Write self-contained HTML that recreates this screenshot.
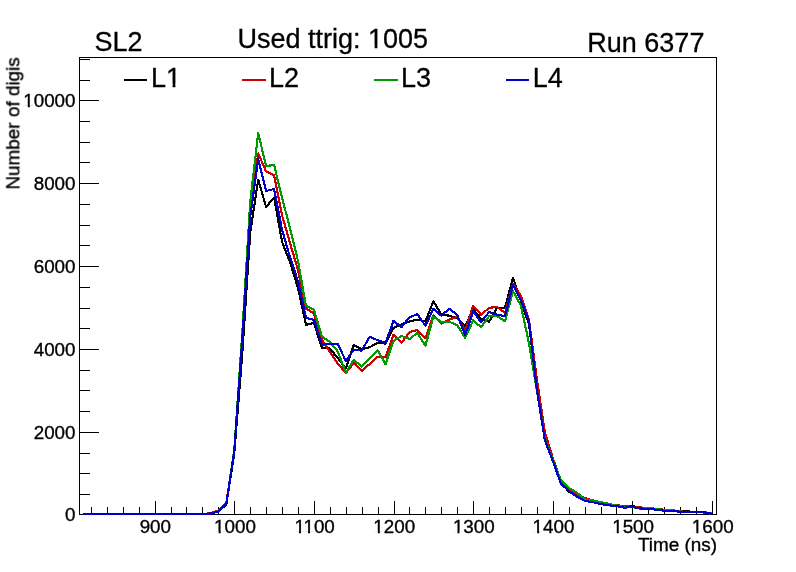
<!DOCTYPE html>
<html><head><meta charset="utf-8"><title>SL2 time box</title>
<style>
html,body{margin:0;padding:0;background:#fff;}
body{width:796px;height:572px;overflow:hidden;font-family:"Liberation Sans",sans-serif;}
svg{display:block;}
text{font-family:"Liberation Sans",sans-serif;fill:#000;}
.ax,.big{filter:grayscale(100%);}
.ax text{font-size:18.8px;stroke:#000;stroke-width:0.35px;}
.big text{font-size:27px;stroke:#000;stroke-width:0.3px;}
</style></head><body>
<svg width="796" height="572" viewBox="0 0 796 572">
<rect x="0" y="0" width="796" height="572" fill="#ffffff"/>
<g stroke="#000" stroke-width="1" shape-rendering="crispEdges" fill="none">
<rect x="79.5" y="57.5" width="637" height="457"/>
<line x1="91.5" y1="514.5" x2="91.5" y2="506.5"/>
<line x1="107.5" y1="514.5" x2="107.5" y2="506.5"/>
<line x1="123.5" y1="514.5" x2="123.5" y2="506.5"/>
<line x1="139.5" y1="514.5" x2="139.5" y2="506.5"/>
<line x1="155.5" y1="514.5" x2="155.5" y2="500.5"/>
<line x1="171.5" y1="514.5" x2="171.5" y2="506.5"/>
<line x1="186.5" y1="514.5" x2="186.5" y2="506.5"/>
<line x1="202.5" y1="514.5" x2="202.5" y2="506.5"/>
<line x1="218.5" y1="514.5" x2="218.5" y2="506.5"/>
<line x1="234.5" y1="514.5" x2="234.5" y2="500.5"/>
<line x1="250.5" y1="514.5" x2="250.5" y2="506.5"/>
<line x1="266.5" y1="514.5" x2="266.5" y2="506.5"/>
<line x1="282.5" y1="514.5" x2="282.5" y2="506.5"/>
<line x1="298.5" y1="514.5" x2="298.5" y2="506.5"/>
<line x1="314.5" y1="514.5" x2="314.5" y2="500.5"/>
<line x1="330.5" y1="514.5" x2="330.5" y2="506.5"/>
<line x1="346.5" y1="514.5" x2="346.5" y2="506.5"/>
<line x1="362.5" y1="514.5" x2="362.5" y2="506.5"/>
<line x1="378.5" y1="514.5" x2="378.5" y2="506.5"/>
<line x1="394.5" y1="514.5" x2="394.5" y2="500.5"/>
<line x1="409.5" y1="514.5" x2="409.5" y2="506.5"/>
<line x1="425.5" y1="514.5" x2="425.5" y2="506.5"/>
<line x1="441.5" y1="514.5" x2="441.5" y2="506.5"/>
<line x1="457.5" y1="514.5" x2="457.5" y2="506.5"/>
<line x1="473.5" y1="514.5" x2="473.5" y2="500.5"/>
<line x1="489.5" y1="514.5" x2="489.5" y2="506.5"/>
<line x1="505.5" y1="514.5" x2="505.5" y2="506.5"/>
<line x1="521.5" y1="514.5" x2="521.5" y2="506.5"/>
<line x1="537.5" y1="514.5" x2="537.5" y2="506.5"/>
<line x1="553.5" y1="514.5" x2="553.5" y2="500.5"/>
<line x1="569.5" y1="514.5" x2="569.5" y2="506.5"/>
<line x1="585.5" y1="514.5" x2="585.5" y2="506.5"/>
<line x1="601.5" y1="514.5" x2="601.5" y2="506.5"/>
<line x1="616.5" y1="514.5" x2="616.5" y2="506.5"/>
<line x1="632.5" y1="514.5" x2="632.5" y2="500.5"/>
<line x1="648.5" y1="514.5" x2="648.5" y2="506.5"/>
<line x1="664.5" y1="514.5" x2="664.5" y2="506.5"/>
<line x1="680.5" y1="514.5" x2="680.5" y2="506.5"/>
<line x1="696.5" y1="514.5" x2="696.5" y2="506.5"/>
<line x1="712.5" y1="514.5" x2="712.5" y2="500.5"/>
<line x1="79.5" y1="514.5" x2="98.5" y2="514.5"/>
<line x1="79.5" y1="494.5" x2="89.5" y2="494.5"/>
<line x1="79.5" y1="473.5" x2="89.5" y2="473.5"/>
<line x1="79.5" y1="453.5" x2="89.5" y2="453.5"/>
<line x1="79.5" y1="432.5" x2="98.5" y2="432.5"/>
<line x1="79.5" y1="411.5" x2="89.5" y2="411.5"/>
<line x1="79.5" y1="390.5" x2="89.5" y2="390.5"/>
<line x1="79.5" y1="370.5" x2="89.5" y2="370.5"/>
<line x1="79.5" y1="349.5" x2="98.5" y2="349.5"/>
<line x1="79.5" y1="328.5" x2="89.5" y2="328.5"/>
<line x1="79.5" y1="308.5" x2="89.5" y2="308.5"/>
<line x1="79.5" y1="287.5" x2="89.5" y2="287.5"/>
<line x1="79.5" y1="266.5" x2="98.5" y2="266.5"/>
<line x1="79.5" y1="245.5" x2="89.5" y2="245.5"/>
<line x1="79.5" y1="225.5" x2="89.5" y2="225.5"/>
<line x1="79.5" y1="204.5" x2="89.5" y2="204.5"/>
<line x1="79.5" y1="183.5" x2="98.5" y2="183.5"/>
<line x1="79.5" y1="162.5" x2="89.5" y2="162.5"/>
<line x1="79.5" y1="142.5" x2="89.5" y2="142.5"/>
<line x1="79.5" y1="121.5" x2="89.5" y2="121.5"/>
<line x1="79.5" y1="100.5" x2="98.5" y2="100.5"/>
<line x1="79.5" y1="80.5" x2="89.5" y2="80.5"/>
<line x1="79.5" y1="59.5" x2="89.5" y2="59.5"/>
</g>
<g fill="none" stroke-width="2.15" stroke-linejoin="round" shape-rendering="crispEdges">
<polyline points="83.0,514.0 91.0,514.0 98.9,514.0 106.9,514.0 114.8,514.0 122.8,514.0 130.8,514.0 138.7,514.0 146.7,514.0 154.7,514.0 162.6,514.0 170.6,514.0 178.6,514.0 186.5,514.0 194.5,514.0 202.4,514.0 210.4,513.5 218.4,511.5 226.3,504.5 234.3,453.0 242.2,355.0 250.2,233.0 258.2,179.6 266.1,207.0 274.1,197.5 282.1,242.0 290.0,262.0 298.0,288.0 306.0,324.8 313.9,323.0 321.9,347.8 329.8,348.5 337.8,358.0 345.8,368.7 353.7,345.0 361.7,349.2 369.7,347.2 377.6,342.9 385.6,343.6 393.5,327.8 401.5,324.3 409.5,321.5 417.4,319.7 425.4,321.5 433.4,301.2 441.3,314.5 449.3,315.7 457.2,318.3 465.2,325.9 473.2,309.2 481.1,319.0 489.1,321.7 497.1,307.8 505.0,307.7 513.0,277.6 520.9,301.0 528.9,324.0 536.9,388.0 544.8,437.0 552.8,459.0 560.8,482.0 568.7,491.7 576.7,495.5 584.6,500.0 592.6,501.5 600.6,503.5 608.5,504.8 616.5,505.6 624.5,507.0 632.4,505.8 640.4,508.0 648.3,508.2 656.3,509.5 664.3,510.0 672.2,510.5 680.2,510.8 688.1,511.5 696.1,511.8 704.1,512.0 712.0,513.5" stroke="#000000"/>
<polyline points="83.0,514.0 91.0,514.0 98.9,514.0 106.9,514.0 114.8,514.0 122.8,514.0 130.8,514.0 138.7,514.0 146.7,514.0 154.7,514.0 162.6,514.0 170.6,514.0 178.6,514.0 186.5,514.0 194.5,514.0 202.4,514.0 210.4,513.2 218.4,510.5 226.3,503.0 234.3,450.0 242.2,338.0 250.2,211.0 258.2,153.4 266.1,171.5 274.1,175.5 282.1,215.5 290.0,243.0 298.0,270.0 306.0,308.7 313.9,313.2 321.9,340.0 329.8,351.6 337.8,363.5 345.8,373.0 353.7,363.1 361.7,370.8 369.7,364.0 377.6,356.6 385.6,357.0 393.5,334.8 401.5,342.9 409.5,332.0 417.4,330.1 425.4,338.3 433.4,315.2 441.3,323.7 449.3,319.5 457.2,316.9 465.2,330.1 473.2,305.7 481.1,314.8 489.1,307.8 497.1,307.1 505.0,312.9 513.0,283.5 520.9,296.0 528.9,319.5 536.9,379.0 544.8,432.0 552.8,458.0 560.8,481.0 568.7,489.0 576.7,494.0 584.6,498.0 592.6,500.5 600.6,502.5 608.5,504.2 616.5,505.2 624.5,506.2 632.4,506.8 640.4,507.5 648.3,508.0 656.3,508.8 664.3,509.8 672.2,510.0 680.2,511.5 688.1,511.7 696.1,511.6 704.1,512.6 712.0,514.0" stroke="#cc0000"/>
<polyline points="83.0,514.0 91.0,514.0 98.9,514.0 106.9,514.0 114.8,514.0 122.8,514.0 130.8,514.0 138.7,514.0 146.7,514.0 154.7,514.0 162.6,514.0 170.6,514.0 178.6,514.0 186.5,514.0 194.5,514.0 202.4,514.0 210.4,513.5 218.4,511.5 226.3,504.0 234.3,449.0 242.2,334.0 250.2,202.0 258.2,133.2 266.1,166.0 274.1,165.0 282.1,198.0 290.0,228.0 298.0,261.0 306.0,306.0 313.9,309.6 321.9,336.6 329.8,341.8 337.8,351.5 345.8,372.8 353.7,359.7 361.7,366.6 369.7,358.4 377.6,350.3 385.6,364.3 393.5,341.0 401.5,335.9 409.5,339.0 417.4,332.9 425.4,345.9 433.4,316.6 441.3,321.8 449.3,321.8 457.2,325.2 465.2,337.8 473.2,320.3 481.1,327.3 489.1,316.2 497.1,316.2 505.0,321.2 513.0,291.0 520.9,305.5 528.9,343.0 536.9,391.0 544.8,439.0 552.8,460.0 560.8,480.0 568.7,488.0 576.7,492.4 584.6,499.4 592.6,500.4 600.6,502.2 608.5,503.8 616.5,505.5 624.5,507.0 632.4,507.0 640.4,508.8 648.3,508.0 656.3,509.0 664.3,510.0 672.2,510.5 680.2,511.5 688.1,512.0 696.1,511.8 704.1,512.0 712.0,513.5" stroke="#009900"/>
<polyline points="83.0,514.0 91.0,514.0 98.9,514.0 106.9,514.0 114.8,514.0 122.8,514.0 130.8,514.0 138.7,514.0 146.7,514.0 154.7,514.0 162.6,514.0 170.6,514.0 178.6,514.0 186.5,514.0 194.5,514.0 202.4,514.0 210.4,513.5 218.4,511.5 226.3,504.0 234.3,451.0 242.2,340.0 250.2,217.0 258.2,159.0 266.1,191.0 274.1,189.0 282.1,230.0 290.0,257.0 298.0,281.5 306.0,317.8 313.9,319.9 321.9,344.6 329.8,344.0 337.8,343.8 345.8,361.0 353.7,349.9 361.7,350.6 369.7,336.8 377.6,340.2 385.6,343.0 393.5,320.8 401.5,327.1 409.5,317.3 417.4,314.1 425.4,325.7 433.4,308.9 441.3,315.7 449.3,308.7 457.2,314.8 465.2,335.0 473.2,311.3 481.1,322.4 489.1,312.0 497.1,314.8 505.0,316.0 513.0,285.0 520.9,299.9 528.9,321.0 536.9,390.0 544.8,440.0 552.8,461.0 560.8,483.4 568.7,491.0 576.7,496.6 584.6,500.8 592.6,502.2 600.6,504.0 608.5,505.3 616.5,506.2 624.5,507.7 632.4,506.8 640.4,508.5 648.3,508.7 656.3,509.8 664.3,510.7 672.2,511.0 680.2,511.7 688.1,511.9 696.1,512.0 704.1,512.2 712.0,513.8" stroke="#0000cc"/>
</g>
<g class="ax">
<text x="155.3" y="533.2" text-anchor="middle">900</text>
<text x="235.0" y="533.2" text-anchor="middle">1000</text>
<text x="314.6" y="533.2" text-anchor="middle">1100</text>
<text x="394.2" y="533.2" text-anchor="middle">1200</text>
<text x="473.8" y="533.2" text-anchor="middle">1300</text>
<text x="553.5" y="533.2" text-anchor="middle">1400</text>
<text x="633.1" y="533.2" text-anchor="middle">1500</text>
<text x="712.7" y="533.2" text-anchor="middle">1600</text>
<text x="75.5" y="521.1" text-anchor="end">0</text>
<text x="75.5" y="438.9" text-anchor="end">2000</text>
<text x="75.5" y="356.0" text-anchor="end">4000</text>
<text x="75.5" y="273.1" text-anchor="end">6000</text>
<text x="75.5" y="190.2" text-anchor="end">8000</text>
<text x="75.5" y="107.3" text-anchor="end">10000</text>
<text x="717.1" y="551" text-anchor="end" style="font-size:18.9px">Time (ns)</text>
<text transform="translate(19.3,57.3) rotate(-90)" text-anchor="end" style="font-size:18.9px">Number of digis</text>
</g>
<g class="big">
<text x="94.5" y="51">SL2</text>
<text x="237.5" y="47.8">Used ttrig: 1005</text>
<text x="587.3" y="52">Run 6377</text>
<text x="151" y="86.7">L1</text>
<text x="269" y="86.7">L2</text>
<text x="401" y="86.7">L3</text>
<text x="532.7" y="86.7">L4</text>
</g>
<g fill="#ffffff" stroke="none">
<rect x="214.64" y="531.10" width="4.00" height="4.10"/>
<rect x="220.70" y="531.10" width="3.85" height="4.10"/>
<rect x="294.94" y="531.10" width="4.00" height="4.10"/>
<rect x="300.99" y="531.10" width="3.85" height="4.10"/>
<rect x="303.98" y="531.10" width="4.00" height="4.10"/>
<rect x="310.04" y="531.10" width="3.85" height="4.10"/>
<rect x="373.84" y="531.10" width="4.00" height="4.10"/>
<rect x="379.90" y="531.10" width="3.85" height="4.10"/>
<rect x="453.44" y="531.10" width="4.00" height="4.10"/>
<rect x="459.50" y="531.10" width="3.85" height="4.10"/>
<rect x="533.14" y="531.10" width="4.00" height="4.10"/>
<rect x="539.20" y="531.10" width="3.85" height="4.10"/>
<rect x="612.74" y="531.10" width="4.00" height="4.10"/>
<rect x="618.80" y="531.10" width="3.85" height="4.10"/>
<rect x="692.34" y="531.10" width="4.00" height="4.10"/>
<rect x="698.40" y="531.10" width="3.85" height="4.10"/>
<rect x="23.80" y="105.20" width="4.00" height="4.10"/>
<rect x="29.85" y="105.20" width="3.85" height="4.10"/>
<rect x="369.19" y="45.08" width="5.43" height="4.72"/>
<rect x="377.41" y="45.08" width="5.22" height="4.72"/>
<rect x="167.17" y="83.98" width="5.43" height="4.72"/>
<rect x="175.39" y="83.98" width="5.22" height="4.72"/>
</g>
<g stroke-width="2" shape-rendering="crispEdges">
<line x1="124" y1="80" x2="147" y2="80" stroke="#000000"/>
<line x1="242" y1="80" x2="266" y2="80" stroke="#cc0000"/>
<line x1="374" y1="80" x2="398" y2="80" stroke="#009900"/>
<line x1="506" y1="80" x2="529" y2="80" stroke="#0000cc"/>
</g>
</svg>
</body></html>
